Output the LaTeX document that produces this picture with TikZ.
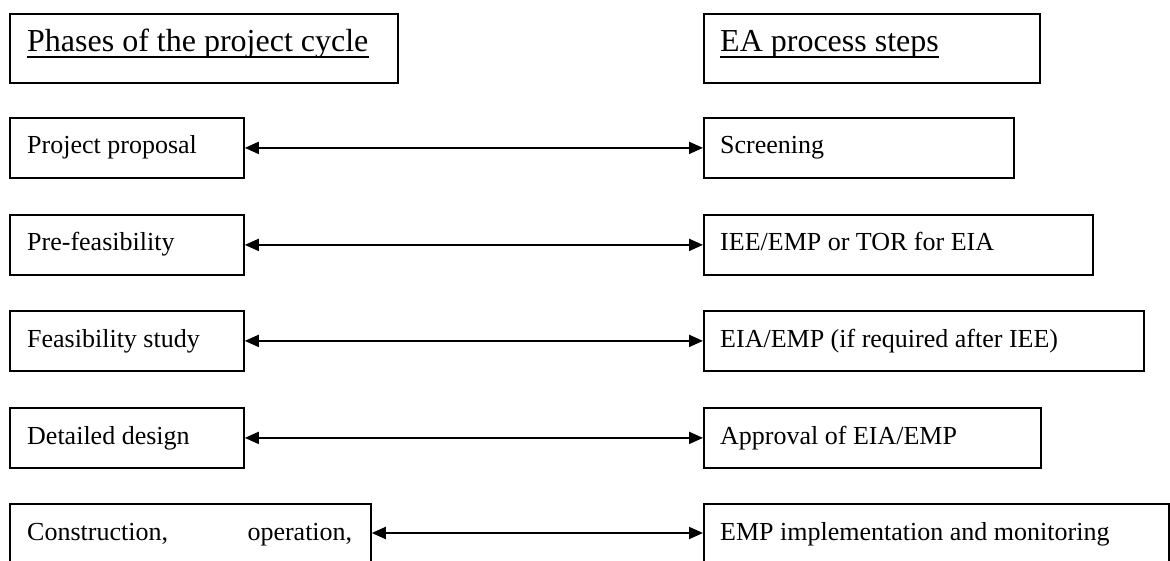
\documentclass[tikz,border=0pt]{standalone}
\usepackage{fontspec}
\setmainfont{Liberation Serif}
\usetikzlibrary{arrows.meta}
\begin{document}
\begin{tikzpicture}[x=1pt,y=-1pt,
  box/.style={draw=black, line width=1.8pt, rectangle, inner sep=0pt, anchor=north west, minimum height=60pt},
  headbox/.style={box, minimum height=69pt},
  bodytext/.style={anchor=base west, inner sep=0pt, font=\fontsize{26}{30}\selectfont},
  headtext/.style={anchor=base west, inner sep=0pt, font=\fontsize{32}{36}\selectfont},
  uline/.style={line width=2pt},
  link/.style={line width=2pt, {Triangle[length=14pt,width=12pt]}-{Triangle[length=14pt,width=12pt]}}
]
\clip (0,0) rectangle (1170,561);
\fill[white] (0,0) rectangle (1170,561);

% headers
\node[headbox, minimum width=388pt] (hl) at (9,13) {};
\node[headbox, minimum width=336pt] (hr) at (703,13) {};
\node[headtext] (hlt) at (27,52) {Phases of the project cycle};
\node[headtext] (hrt) at (720,52) {EA process steps};
\draw[uline] ([yshift=-5pt]hlt.base west) -- ([yshift=-5pt]hlt.base east);
\draw[uline] ([yshift=-5pt]hrt.base west) -- ([yshift=-5pt]hrt.base east);

% left boxes
\node[box, minimum width=234pt] (l1) at (9,117) {};
\node[box, minimum width=234pt] (l2) at (9,214) {};
\node[box, minimum width=234pt] (l3) at (9,310) {};
\node[box, minimum width=234pt] (l4) at (9,407) {};
\node[box, minimum width=361pt, minimum height=62pt] (l5) at (9,503) {};

% right boxes
\node[box, minimum width=310pt] (r1) at (703,117) {};
\node[box, minimum width=389pt] (r2) at (703,214) {};
\node[box, minimum width=440pt] (r3) at (703,310) {};
\node[box, minimum width=337pt] (r4) at (703,407) {};
\node[box, minimum width=465pt, minimum height=62pt] (r5) at (703,503) {};

% texts
\node[bodytext] (l1t) at (27,154) {Project proposal};
\node[bodytext] (l2t) at (27,251) {Pre-feasibility};
\node[bodytext] (l3t) at (27,347) {Feasibility study};
\node[bodytext] (l4t) at (27,444) {Detailed design};
\node[bodytext] (l5t) at (27,540) {\hbox to 325pt{Construction,\hfill operation,}};

\node[bodytext] (r1t) at (720,154) {Screening};
\node[bodytext] (r2t) at (720,251) {IEE/EMP or TOR for EIA};
\node[bodytext] (r3t) at (720,347) {EIA/EMP (if required after IEE)};
\node[bodytext] (r4t) at (720,444) {Approval of EIA/EMP};
\node[bodytext] (r5t) at (720,540) {EMP implementation and monitoring};

% connectors
\draw[link] (l1.east) -- (r1.west);
\draw[link] (l2.east) -- (r2.west);
\draw[link] (l3.east) -- (r3.west);
\draw[link] (l4.east) -- (r4.west);
\draw[link] (l5.east |- 0,533) -- (r5.west |- 0,533);
\end{tikzpicture}
\end{document}
